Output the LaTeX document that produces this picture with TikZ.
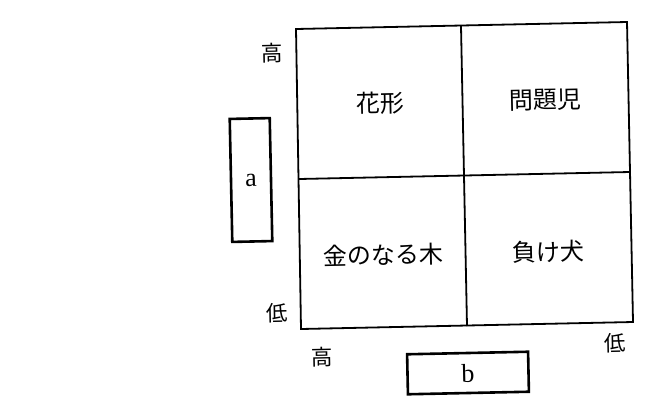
\documentclass[tikz,border=0pt]{standalone}
\usepackage{fontspec}
\setmainfont{Liberation Serif}
\newfontfamily\cjk{Noto Sans CJK JP}
\begin{document}
\begin{tikzpicture}[x=1pt,y=-1pt,
  quad/.style={font=\cjk\fontsize{24}{27}\selectfont, rotate=1.2, inner sep=0pt},
  axislab/.style={font=\cjk\fontsize{21.5}{24}\selectfont, rotate=1.2, inner sep=0pt},
  blank/.style={draw, line width=2.6pt, rotate=1.2, inner sep=0pt, font=\fontsize{26}{29}\selectfont},
  gridline/.style={line width=1.8pt}]
\useasboundingbox (0,0) rectangle (655,416);
% grid corners
\coordinate (TL) at (296,29);
\coordinate (TR) at (627,22);
\coordinate (BR) at (633,322);
\coordinate (BL) at (301,329);
\coordinate (MT) at (461,26);
\coordinate (MB) at (467,326);
\coordinate (ML) at (299,179);
\coordinate (MR) at (630,172);
\draw[gridline] (TL) -- (TR) -- (BR) -- (BL) -- cycle;
\draw[gridline] (MT) -- (MB);
\draw[gridline] (ML) -- (MR);
% quadrant texts
\node[quad] (q1) at (380,103) {花形};
\node[quad] (q2) at (545,100) {問題児};
\node[quad] (q3) at (383,255) {金のなる木};
\node[quad] (q4) at (548,252) {負け犬};
% axis labels
\node[axislab] (yh) at (272,53) {高};
\node[axislab] (yl) at (277,313) {低};
\node[axislab] (xh) at (322,357) {高};
\node[axislab] (xl) at (615,343) {低};
% blank boxes
\node[blank, minimum width=40pt, minimum height=123pt] (a) at (251,180) {a};
\node[blank, minimum width=121pt, minimum height=40pt] (b) at (468,373) {b};
\end{tikzpicture}
\end{document}
